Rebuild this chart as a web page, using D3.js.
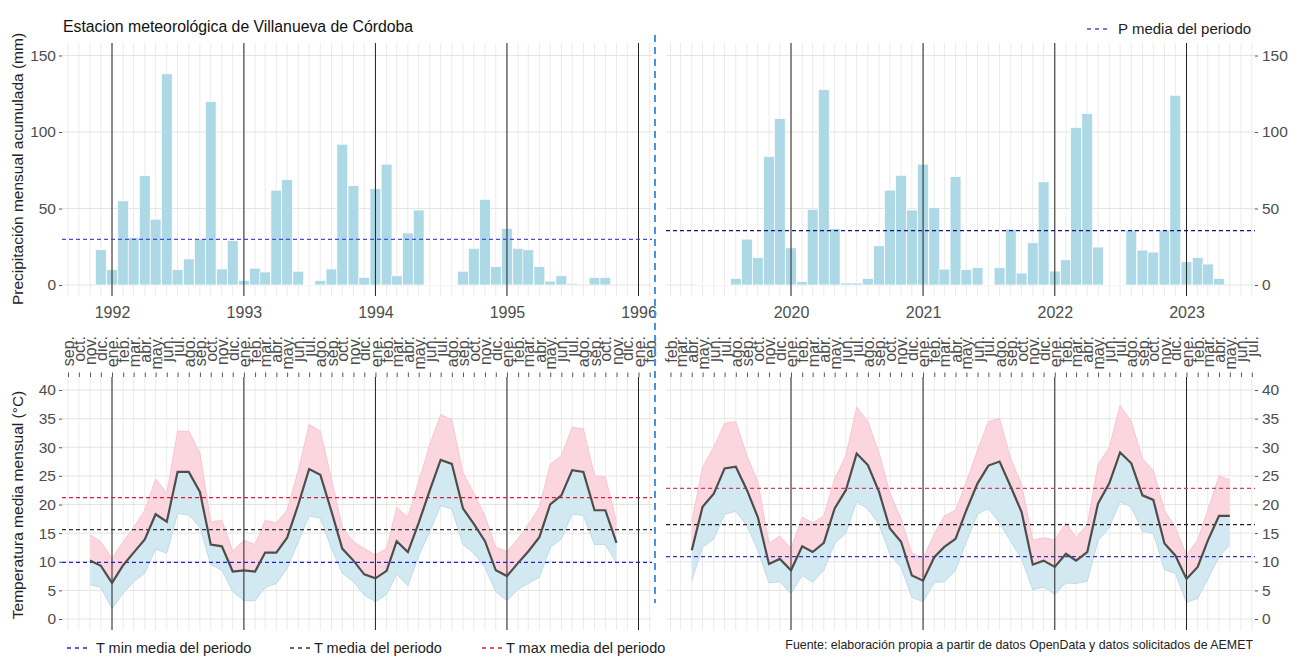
<!DOCTYPE html>
<html>
<head>
<meta charset="utf-8">
<script src="https://cdn.jsdelivr.net/npm/d3@7"></script>
<style>
  body { margin: 0; background: #fff; }
  svg text { font-family: "Liberation Sans", Arial, sans-serif; }
</style>
</head>
<body>
<div id="chart"></div>
<script>
const monthNames = ["ene.", "feb.", "mar.", "abr.", "may.", "jun.", "jul.", "ago.", "sep.", "oct.", "nov.", "dic."];
const precipTicks = [0, 50, 100, 150];
const tempTicks = [0, 5, 10, 15, 20, 25, 30, 35, 40];

// periodo 1991-1995
const precipStartA = "1991-12";
const precipA = [23, 10, 55, 31, 71.5, 43, 138, 10, 17, 30, 120, 10.5, 29, 3, 11, 8.5, 62, 69, 9, 0.3,
  3, 10.5, 92, 65, 5, 63, 79, 6, 34, 49, 0.3, 0.3, 0.3, 9, 24, 56, 12, 37, 24, 23, 12, 2.5, 6, 1, 0, 5, 5];
const tempStartA = "1991-11";
const tempMeanA = [10.2, 9.3, 6.3, 9.4, 11.6, 13.9, 18.3, 17.0, 25.7, 25.7, 22.2, 13.0, 12.7, 8.3, 8.5, 8.3,
  11.6, 11.6, 14.2, 20.0, 26.2, 25.2, 18.8, 12.3, 10.2, 7.8, 7.1, 8.4, 13.6, 11.7, 16.8, 22.5, 27.8, 27.1,
  19.3, 16.6, 13.6, 8.5, 7.5, 9.8, 11.8, 14.3, 20.0, 21.6, 26.0, 25.7, 19.0, 19.0, 13.3];
const tempMaxA = [14.7, 13.5, 10.6, 13.5, 16, 19, 24.5, 22, 32.8, 32.8, 29, 17, 17.2, 11.8, 13.8, 13,
  17.2, 16.8, 19, 26, 34, 32.8, 24.5, 16, 13.5, 12.3, 11.2, 12.3, 19.5, 17.8, 24, 30.5, 35.7, 34.8,
  25.5, 22, 18, 12.5, 11.8, 14, 16.5, 19.5, 27, 28.5, 33.5, 33.2, 25, 24.8, 17];
const tempMinA = [6, 5.5, 1.8, 4.5, 6.5, 8, 12.2, 11.5, 18.4, 18.2, 16, 9.5, 8.5, 4.8, 3.2, 3.2,
  5.5, 6.2, 8.8, 13.5, 18, 17.6, 12.3, 8, 6.5, 4.2, 3, 4.3, 7.8, 5.8, 11, 15.3, 19.8, 19.2,
  13, 11.5, 9, 4.8, 3.2, 5.2, 6.2, 7.3, 12.5, 14, 18.3, 18.1, 13, 13, 9.8];
const precipAvgA = 29.8;
const tempAvgA = [9.9, 15.6, 21.2]; // min, media, max

// periodo 2019-2023
const precipStartB = "2019-05";
const precipB = [0.3, 0.3, 0.3, 4.3, 30, 18, 84, 108.7, 24.3, 2.2, 49.5, 127.8, 37, 1.3, 1.3, 4.3,
  25.6, 62, 71.7, 49, 79, 50.6, 10.4, 70.9, 10, 11.3, 0.3, 11.3, 36.5, 7.8, 27.6, 67.4,
  9.1, 16.5, 103, 112, 24.8, 0.3, 0.3, 35.9, 22.8, 21.5, 35.9, 124, 15.2, 18, 13.7, 4.3];
const tempStartB = "2019-04";
const tempMeanB = [12, 19.6, 21.9, 26.3, 26.6, 22.5, 17.8, 9.6, 10.5, 8.5, 12.7, 11.7, 13.3, 19.3, 22.5,
  28.9, 26.9, 22.2, 15.8, 13.5, 7.6, 6.7, 10.8, 12.6, 14, 19, 23.7, 26.8, 27.5, 23.1, 18.7, 9.5, 10.2,
  9.1, 11.4, 10.2, 11.7, 20.2, 23.7, 29.1, 27.2, 21.6, 20.8, 13.2, 11.1, 7, 9.1, 13.7, 18, 18];
const tempMaxB = [17, 26.5, 30, 34.2, 34.5, 28.5, 24, 13.2, 14.5, 12.3, 17.8, 16.8, 18, 24.5, 28.5,
  37, 34.5, 29, 22, 17.5, 11.5, 10.6, 14.8, 18, 19, 24, 29.5, 34.5, 35, 28, 23.5, 13.8, 14.2,
  13.8, 16.8, 14.2, 16.5, 27, 30, 37.3, 34.5, 28, 26, 19, 16, 11.2, 13.8, 19, 25, 24.3];
const tempMinB = [6.7, 12.5, 14, 18.3, 18.8, 16.3, 12, 6.3, 6.5, 4.4, 7.6, 6.4, 8.5, 13.2, 15,
  20.5, 19.2, 16.5, 11.3, 9, 3.8, 3, 6.4, 6.5, 8.5, 13.5, 18.3, 19.3, 16.8, 13.5, 10.5, 5.1, 5.6,
  4.3, 6.3, 6.2, 6.6, 13.7, 16, 20.5, 19.5, 15.3, 15, 8.6, 8, 2.9, 3.6, 7, 10.8, 13];
const precipAvgB = 35.6;
const tempAvgB = [10.9, 16.5, 22.8];

const width = 1289, height = 657;
const topBox = {y0: 43, y1: 296}, botBox = {y0: 377, y1: 630};
const tickColor = "#4d4d4d";

let svg = d3.select("#chart")
    .append("svg")
    .attr("width", width)
    .attr("height", height);

let yP = d3.scaleLinear().domain([0, 150]).range([285, 55.5]);
let yT = d3.scaleLinear().domain([0, 40]).range([619, 390]);

function monthSeq(start, n) {
    let parts = start.split("-").map(Number);
    let s = new Date(Date.UTC(parts[0], parts[1] - 1, 1));
    return d3.range(n).map(function(i) { return d3.utcMonth.offset(s, i); });
}

function styleAxis(g) {
    g.select(".domain").remove();
    g.selectAll(".tick line").attr("stroke", "#555");
    g.selectAll(".tick text").attr("fill", tickColor).style("font-size", "15.5px");
}

const panels = [
    {side: "left", x0: 62, x1: 652,
     anchors: [new Date(Date.UTC(1992, 0, 1)), new Date(Date.UTC(1996, 0, 1))], px: [112, 638.5],
     precip: precipA, pStart: precipStartA, pAvg: precipAvgA, pAvgColor: "#4b4bdc",
     tMean: tempMeanA, tMax: tempMaxA, tMin: tempMinA, tStart: tempStartA, tAvg: tempAvgA,
     tAvgColors: ["#2222cc", "#333333", "#d81e3c"]},
    {side: "right", x0: 666, x1: 1255,
     anchors: [new Date(Date.UTC(2020, 0, 1)), new Date(Date.UTC(2023, 0, 1))], px: [791, 1186.5],
     precip: precipB, pStart: precipStartB, pAvg: precipAvgB, pAvgColor: "#1c1080",
     tMean: tempMeanB, tMax: tempMaxB, tMin: tempMinB, tStart: tempStartB, tAvg: tempAvgB,
     tAvgColors: ["#3434c4", "#222222", "#d0406a"]}
];

panels.forEach(function(p) {
    let x = d3.scaleUtc().domain(p.anchors).range(p.px);
    let months = d3.utcMonth.range(x.invert(p.x0), x.invert(p.x1));
    let years = d3.utcYear.range(x.invert(p.x0), x.invert(p.x1));

    // ---------- precipitation ----------
    let gp = svg.append("g");
    gp.selectAll("line.vgrid").data(months).enter().append("line")
        .attr("x1", function(d) { return x(d); }).attr("x2", function(d) { return x(d); })
        .attr("y1", topBox.y0).attr("y2", topBox.y1)
        .attr("stroke", "#ebebeb").attr("stroke-width", 1);
    gp.selectAll("line.hgrid").data(precipTicks).enter().append("line")
        .attr("x1", p.x0).attr("x2", p.x1)
        .attr("y1", function(d) { return yP(d); }).attr("y2", function(d) { return yP(d); })
        .attr("stroke", "#e4e4e4").attr("stroke-width", 1);

    let pDates = monthSeq(p.pStart, p.precip.length);
    let pData = p.precip.map(function(v, i) { return {date: pDates[i], value: v}; });
    gp.selectAll("rect").data(pData).enter().append("rect")
        .attr("x", function(d) { return x(d3.utcDay.offset(d.date, -15)); })
        .attr("width", function(d) { return x(d3.utcDay.offset(d.date, 15)) - x(d3.utcDay.offset(d.date, -15)); })
        .attr("y", function(d) { return yP(d.value); })
        .attr("height", function(d) { return yP(0) - yP(d.value); })
        .attr("fill", "#add8e6")
        .attr("stroke", "#fff").attr("stroke-width", 0.7);

    gp.selectAll("line.year").data(years).enter().append("line")
        .attr("x1", function(d) { return x(d); }).attr("x2", function(d) { return x(d); })
        .attr("y1", topBox.y0).attr("y2", topBox.y1)
        .attr("stroke", "#222").attr("stroke-width", 1);

    gp.append("line")
        .attr("x1", p.x0).attr("x2", p.x1)
        .attr("y1", yP(p.pAvg)).attr("y2", yP(p.pAvg))
        .attr("stroke", p.pAvgColor).attr("stroke-width", 1.3)
        .attr("stroke-dasharray", "4,3");

    let yAxP = p.side === "left"
        ? d3.axisLeft(yP).tickValues(precipTicks).tickSize(3).tickPadding(3)
        : d3.axisRight(yP).tickValues(precipTicks).tickSize(3).tickPadding(4);
    gp.append("g")
        .attr("transform", `translate(${p.side === "left" ? p.x0 : p.x1},0)`)
        .call(yAxP).call(styleAxis);

    gp.append("g")
        .attr("transform", `translate(0,${topBox.y1})`)
        .call(d3.axisBottom(x).tickValues(years).tickFormat(d3.utcFormat("%Y")).tickSize(0).tickPadding(10.5))
        .call(styleAxis)
        .selectAll(".tick text").style("font-size", "16px");

    // ---------- temperature ----------
    let gt = svg.append("g");
    gt.selectAll("line.vgrid").data(months).enter().append("line")
        .attr("x1", function(d) { return x(d); }).attr("x2", function(d) { return x(d); })
        .attr("y1", botBox.y0).attr("y2", botBox.y1)
        .attr("stroke", "#ebebeb").attr("stroke-width", 1);
    gt.selectAll("line.hgrid").data(tempTicks).enter().append("line")
        .attr("x1", p.x0).attr("x2", p.x1)
        .attr("y1", function(d) { return yT(d); }).attr("y2", function(d) { return yT(d); })
        .attr("stroke", "#e4e4e4").attr("stroke-width", 1);

    let tDates = monthSeq(p.tStart, p.tMean.length);
    let tData = p.tMean.map(function(v, i) {
        return {date: tDates[i], mean: v, max: p.tMax[i], min: p.tMin[i]};
    });

    gt.append("path").datum(tData)
        .attr("fill", "#fcd6de")
        .attr("d", d3.area().x(function(d) { return x(d.date); })
            .y0(function(d) { return yT(d.mean); }).y1(function(d) { return yT(d.max); }));
    gt.append("path").datum(tData)
        .attr("fill", "#d3e9f1")
        .attr("d", d3.area().x(function(d) { return x(d.date); })
            .y0(function(d) { return yT(d.min); }).y1(function(d) { return yT(d.mean); }));
    gt.append("path").datum(tData)
        .attr("fill", "none").attr("stroke", "#f5bccb").attr("stroke-width", 0.8)
        .attr("d", d3.line().x(function(d) { return x(d.date); }).y(function(d) { return yT(d.max); }));
    gt.append("path").datum(tData)
        .attr("fill", "none").attr("stroke", "#b2d5e3").attr("stroke-width", 0.8)
        .attr("d", d3.line().x(function(d) { return x(d.date); }).y(function(d) { return yT(d.min); }));

    gt.selectAll("line.year").data(years).enter().append("line")
        .attr("x1", function(d) { return x(d); }).attr("x2", function(d) { return x(d); })
        .attr("y1", botBox.y0).attr("y2", botBox.y1)
        .attr("stroke", "#222").attr("stroke-width", 1);

    gt.selectAll("line.tavg").data(p.tAvg).enter().append("line")
        .attr("x1", p.x0).attr("x2", p.x1)
        .attr("y1", function(d) { return yT(d); }).attr("y2", function(d) { return yT(d); })
        .attr("stroke", function(d, i) { return p.tAvgColors[i]; })
        .attr("stroke-width", 1.3)
        .attr("stroke-dasharray", "4,3");

    gt.append("path").datum(tData)
        .attr("fill", "none").attr("stroke", "#4d4d4d").attr("stroke-width", 2.2)
        .attr("d", d3.line().x(function(d) { return x(d.date); }).y(function(d) { return yT(d.mean); }));

    let yAxT = p.side === "left"
        ? d3.axisLeft(yT).tickValues(tempTicks).tickSize(3).tickPadding(3)
        : d3.axisRight(yT).tickValues(tempTicks).tickSize(3).tickPadding(4);
    gt.append("g")
        .attr("transform", `translate(${p.side === "left" ? p.x0 : p.x1},0)`)
        .call(yAxT).call(styleAxis);

    let monthAxis = gt.append("g")
        .attr("transform", `translate(0,${botBox.y0})`)
        .call(d3.axisTop(x).tickValues(months)
            .tickFormat(function(d) { return monthNames[d.getUTCMonth()]; })
            .tickSize(4.5))
        .call(styleAxis);
    monthAxis.selectAll(".tick text")
        .attr("x", 0).attr("y", 0).attr("dy", "0.35em")
        .attr("transform", "translate(0,-41) rotate(-90)")
        .attr("text-anchor", "end")
        .style("font-size", "16px");
});

// divider
svg.append("line")
    .attr("x1", 655).attr("x2", 655).attr("y1", 35).attr("y2", 603)
    .attr("stroke", "#4a90e2").attr("stroke-width", 2)
    .attr("stroke-dasharray", "7,5");

// titles
svg.append("text")
    .attr("x", 63).attr("y", 32)
    .style("font-size", "15.8px").attr("fill", "#111")
    .text("Estacion meteorológica de Villanueva de Córdoba");

svg.append("text")
    .attr("transform", "translate(23,169) rotate(-90)")
    .attr("text-anchor", "middle")
    .style("font-size", "15.5px").attr("fill", "#222")
    .text("Precipitación mensual acumulada (mm)");

svg.append("text")
    .attr("transform", "translate(23,505) rotate(-90)")
    .attr("text-anchor", "middle")
    .style("font-size", "15.5px").attr("fill", "#222")
    .text("Temperatura media mensual (°C)");

// legends
function legendItem(x, y, color, label, gap, size) {
    svg.append("line")
        .attr("x1", x).attr("x2", x + 23).attr("y1", y - 5).attr("y2", y - 5)
        .attr("stroke", color).attr("stroke-width", 1.3).attr("stroke-dasharray", "4,4");
    svg.append("text")
        .attr("x", x + 23 + gap).attr("y", y)
        .style("font-size", size).attr("fill", "#222")
        .text(label);
}
legendItem(1087, 34, "#4b4bdc", "P media del periodo", 8, "15px");
legendItem(67, 653, "#2222cc", "T min media del periodo", 6, "14.5px");
legendItem(290, 653, "#333333", "T media del periodo", 1, "14.5px");
legendItem(482, 653, "#d81e3c", "T max media del periodo", 1, "14.5px");

svg.append("text")
    .attr("x", 1253).attr("y", 649)
    .attr("text-anchor", "end")
    .style("font-size", "12.4px").attr("fill", "#222")
    .text("Fuente: elaboración propia a partir de datos OpenData y datos solicitados de AEMET");
</script>
</body>
</html>
